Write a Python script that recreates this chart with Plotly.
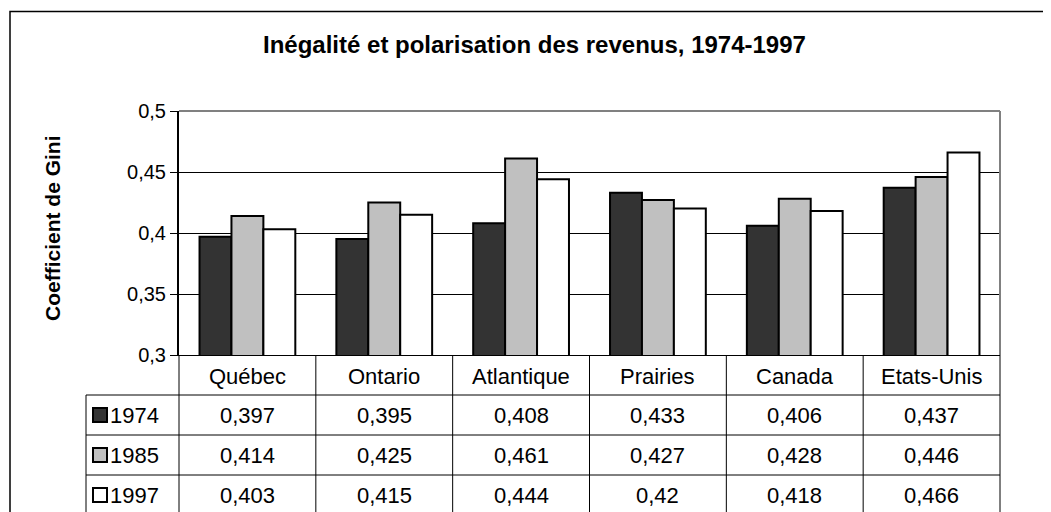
import plotly.graph_objects as go

categories = ["Québec", "Ontario", "Atlantique", "Prairies", "Canada", "Etats-Unis"]
series_names = ["1974", "1985", "1997"]
v1974 = [0.397, 0.395, 0.408, 0.433, 0.406, 0.437]
v1985 = [0.414, 0.425, 0.461, 0.427, 0.428, 0.446]
v1997 = [0.403, 0.415, 0.444, 0.420, 0.418, 0.466]
labels1974 = ["0,397", "0,395", "0,408", "0,433", "0,406", "0,437"]
labels1985 = ["0,414", "0,425", "0,461", "0,427", "0,428", "0,446"]
labels1997 = ["0,403", "0,415", "0,444", "0,42", "0,418", "0,466"]
y_ticks = [0.3, 0.35, 0.4, 0.45, 0.5]
y_tick_labels = ["0,3", "0,35", "0,4", "0,45", "0,5"]

colors = ["#333333", "#C0C0C0", "#FFFFFF"]
series_values = [v1974, v1985, v1997]
series_labels = [labels1974, labels1985, labels1997]

OFF = 8  # page body margin
W, H = 1051 - OFF, 512 - OFF
# plot area in screen pixels
L, R, T, B = 179, 1000, 111, 355
PW, PH = R - L, B - T

def px(x):
    return (x - L) / PW

def py(y):
    return (B - y) / PH

FONT = "Liberation Sans, Arial, sans-serif"
TS = 22

fig = go.Figure()
for name, vals, col in zip(series_names, series_values, colors):
    fig.add_trace(go.Bar(
        x=categories, y=vals, name=name,
        marker=dict(color=col, line=dict(color="#000000", width=2)),
        hoverinfo="x+y+name",
    ))

shapes = []
# outer chart border
shapes.append(dict(type="rect", xref="paper", yref="paper",
                   x0=px(10), x1=px(1100), y0=py(600), y1=py(11.5),
                   line=dict(color="#000000", width=1.5), fillcolor="rgba(0,0,0,0)", layer="below"))
# plot frame top/right grey
shapes.append(dict(type="line", xref="paper", yref="paper", x0=0, x1=1, y0=1, y1=1,
                   line=dict(color="#808080", width=2)))
shapes.append(dict(type="line", xref="paper", yref="paper", x0=1, x1=1, y0=0, y1=1,
                   line=dict(color="#808080", width=2)))
# table horizontal lines
n = len(categories)
for yy in [395, 435, 475]:
    shapes.append(dict(type="line", xref="paper", yref="paper", x0=px(86), x1=1,
                       y0=py(yy), y1=py(yy), line=dict(color="#000000", width=1)))
# table vertical lines
shapes.append(dict(type="line", xref="paper", yref="paper", x0=px(86), x1=px(86),
                   y0=py(395), y1=py(530), line=dict(color="#000000", width=1)))
shapes.append(dict(type="line", xref="paper", yref="paper", x0=0, x1=0,
                   y0=0, y1=py(530), line=dict(color="#000000", width=1)))
for k in range(1, n + 1):
    shapes.append(dict(type="line", xref="paper", yref="paper", x0=k / n, x1=k / n,
                       y0=0, y1=py(530), line=dict(color="#000000", width=1)))
# legend keys in the table
row_centers = [415, 455, 495]
for rc, col in zip(row_centers, colors):
    shapes.append(dict(type="rect", xref="paper", yref="paper",
                       x0=px(93), x1=px(107), y0=py(rc + 7), y1=py(rc - 7),
                       fillcolor=col, line=dict(color="#000000", width=2)))

annotations = []
annotations.append(dict(text="<b>Inégalité et polarisation des revenus, 1974-1997</b>",
                        xref="paper", yref="paper", x=px(534), y=py(44),
                        showarrow=False, font=dict(family=FONT, size=24, color="#000000"),
                        xanchor="center", yanchor="middle"))
annotations.append(dict(text="<b>Coefficient de Gini</b>", textangle=-90,
                        xref="paper", yref="paper", x=px(52), y=py(228),
                        showarrow=False, font=dict(family=FONT, size=21, color="#000000"),
                        xanchor="center", yanchor="middle"))
for c in categories:
    annotations.append(dict(text=c, xref="x", yref="paper", x=c, y=py(376),
                            showarrow=False, font=dict(family=FONT, size=TS, color="#000000"),
                            xanchor="center", yanchor="middle"))
for rc, name, labs in zip(row_centers, series_names, series_labels):
    annotations.append(dict(text=name, xref="paper", yref="paper", x=px(108), y=py(rc),
                            showarrow=False, font=dict(family=FONT, size=TS, color="#000000"),
                            xanchor="left", yanchor="middle"))
    for c, lab in zip(categories, labs):
        annotations.append(dict(text=lab, xref="x", yref="paper", x=c, y=py(rc),
                                showarrow=False, font=dict(family=FONT, size=TS, color="#000000"),
                                xanchor="center", yanchor="middle"))

fig.update_layout(
    width=W, height=H,
    margin=dict(l=L - OFF, r=W - (R - OFF), t=T - OFF, b=H - (B - OFF), pad=0),
    paper_bgcolor="#FFFFFF", plot_bgcolor="#FFFFFF",
    barmode="group", bargap=0.3, bargroupgap=0,
    showlegend=False,
    font=dict(family=FONT, color="#000000"),
    shapes=shapes, annotations=annotations,
    xaxis=dict(range=[-0.5, n - 0.5], showticklabels=False, ticks="", showgrid=False,
               showline=True, linecolor="#000000", linewidth=1, zeroline=False, fixedrange=True),
    yaxis=dict(range=[0.3, 0.5], tickvals=y_ticks, ticktext=y_tick_labels,
               ticks="outside", ticklen=7, tickcolor="#000000", tickwidth=1,
               showgrid=True, gridcolor="#000000", gridwidth=1,
               showline=True, linecolor="#000000", linewidth=2, zeroline=False,
               tickfont=dict(family=FONT, size=20, color="#000000"), fixedrange=True),
)

fig.write_html("out.html")
